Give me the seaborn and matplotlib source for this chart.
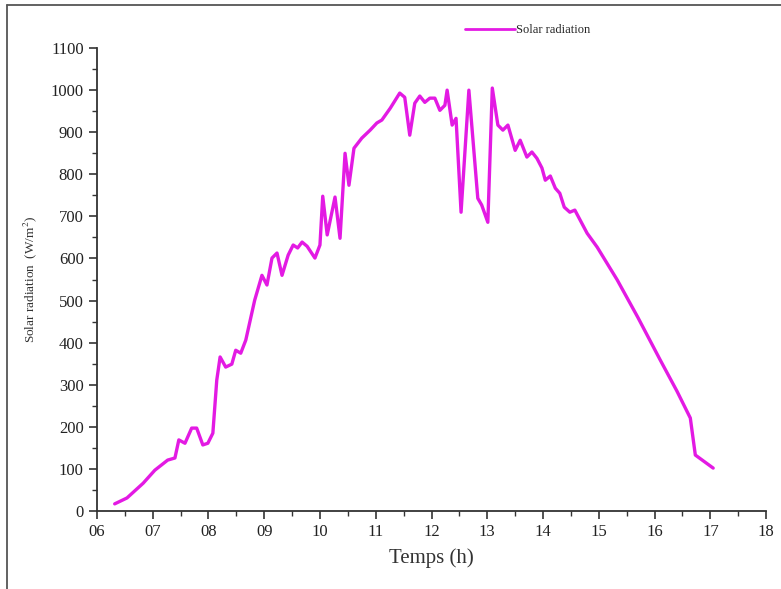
import matplotlib
matplotlib.use("Agg")
import matplotlib.pyplot as plt
import seaborn as sns
import pandas as pd
from matplotlib.ticker import MultipleLocator
from matplotlib.lines import Line2D

time_h = [6.32, 6.54, 6.83, 7.04, 7.27, 7.40, 7.47, 7.58, 7.70, 7.79, 7.90, 7.99, 8.08,
          8.15, 8.21, 8.31, 8.42, 8.49, 8.58, 8.67, 8.83, 8.96, 9.05, 9.14, 9.23, 9.32,
          9.43, 9.52, 9.60, 9.68, 9.77, 9.91, 10.00, 10.05, 10.13, 10.27, 10.36, 10.45,
          10.52, 10.61, 10.75, 10.90, 11.02, 11.11, 11.26, 11.43, 11.52, 11.61, 11.70,
          11.79, 11.88, 11.97, 12.06, 12.15, 12.24, 12.28, 12.37, 12.44, 12.53, 12.67,
          12.83, 12.90, 13.01, 13.09, 13.19, 13.28, 13.37, 13.50, 13.59, 13.71, 13.80,
          13.89, 13.98, 14.04, 14.13, 14.22, 14.30, 14.38, 14.48, 14.57, 14.79, 14.97,
          15.33, 15.70, 16.10, 16.40, 16.64, 16.73, 17.05]
radiation = [17, 31, 66, 97, 121, 126, 169, 161, 197, 197, 157, 161, 185,
             311, 366, 342, 349, 382, 375, 406, 501, 560, 537, 601, 613, 560,
             608, 632, 625, 639, 629, 601, 632, 748, 656, 746, 648, 850,
             774, 862, 886, 905, 922, 929, 957, 993, 983, 893, 969,
             986, 971, 981, 981, 952, 964, 1000, 917, 933, 710, 1000,
             743, 727, 686, 1005, 917, 905, 917, 857, 881, 841, 853,
             838, 815, 786, 796, 767, 755, 722, 710, 715, 660, 627,
             549, 460, 359, 285, 221, 133, 102]
x_ticks = list(range(6, 19))
x_tick_labels = [f"{h:02d}" for h in x_ticks]
y_ticks = list(range(0, 1101, 100))

df = pd.DataFrame({"Temps": time_h, "Solar radiation": radiation})

sns.set_style("ticks")
plt.rcParams["font.family"] = ["Liberation Serif", "DejaVu Serif"]
plt.rcParams["mathtext.fontset"] = "stix"

fig = plt.figure(figsize=(7.81, 5.89), dpi=100)
ax = fig.add_axes([0.124, 0.1324, 0.857, 0.786])

line_color = "#E31AE3"
sns.lineplot(data=df, x="Temps", y="Solar radiation", ax=ax, color=line_color,
             linewidth=2.4, sort=False, legend=False)

ax.set_xlim(6, 18)
ax.set_ylim(0, 1100)
ax.set_xticks(x_ticks)
ax.set_xticklabels(x_tick_labels)
ax.set_yticks(y_ticks)
ax.xaxis.set_minor_locator(MultipleLocator(0.5))
ax.yaxis.set_minor_locator(MultipleLocator(50))
ax.tick_params(axis="both", which="major", direction="out", length=6, width=1.2,
               labelsize=12, color="#333333", labelcolor="#222222")
ax.tick_params(axis="both", which="minor", direction="out", length=3.5, width=1.0,
               color="#333333")
for s in ["top", "right"]:
    ax.spines[s].set_visible(False)
for s in ["left", "bottom"]:
    ax.spines[s].set_linewidth(1.3)
    ax.spines[s].set_color("#333333")

ax.set_xlabel("Temps (h)", fontsize=15, color="#333333", labelpad=6)
ax.set_ylabel(r"Solar radiation  (W/m$^2$)", fontsize=9.5, color="#333333", labelpad=8)

handle = Line2D([], [], color=line_color, linewidth=2.0)
fig.legend([handle], ["Solar radiation"], loc="center left",
           bbox_to_anchor=(465 / 781, 1 - 30 / 589), bbox_transform=fig.transFigure,
           frameon=False, fontsize=9, handlelength=4.0, handletextpad=0.1,
           borderpad=0, borderaxespad=0)

frame_color = "#555555"
fig.add_artist(Line2D([7 / 781, 7 / 781], [0, 1 - 5 / 589], transform=fig.transFigure,
                      color=frame_color, linewidth=1.3))
fig.add_artist(Line2D([7 / 781, 1], [1 - 5 / 589, 1 - 5 / 589], transform=fig.transFigure,
                      color=frame_color, linewidth=1.3))

fig.savefig("out.png", dpi=100)
